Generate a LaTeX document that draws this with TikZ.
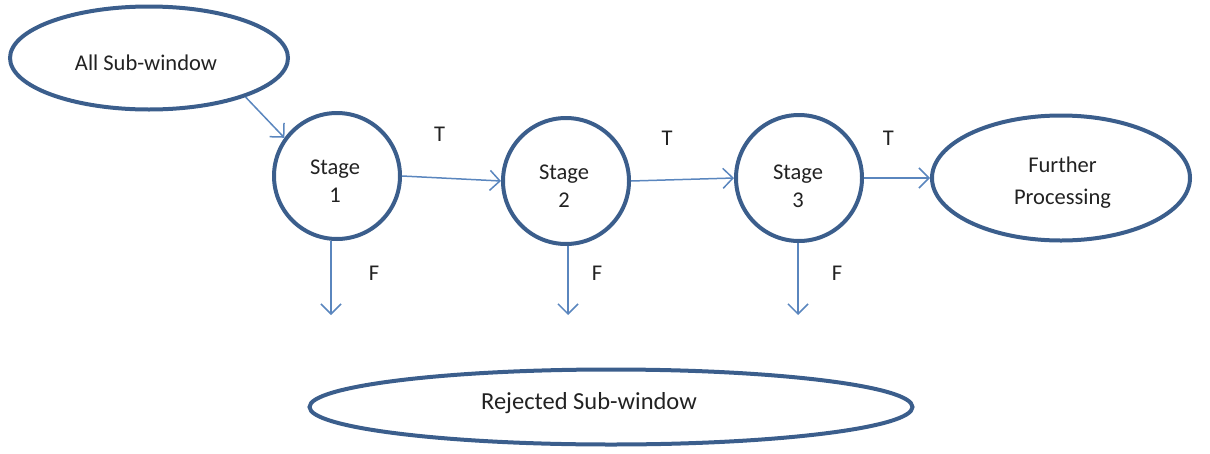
\documentclass[tikz,border=0pt]{standalone}
\usepackage{fontspec}
\setmainfont{Carlito}
\usetikzlibrary{shapes.geometric,arrows.meta}
\definecolor{edgeblue}{HTML}{3B5E8C}
\definecolor{arrowblue}{HTML}{5A86BE}
\definecolor{txt}{HTML}{222222}
\newcommand\shiftedtext[3]{\raisebox{#1}[\height][\depth]{\begin{tabular}{@{}c@{}}#3\end{tabular}}\hspace*{#2}}
\begin{document}
\begin{tikzpicture}[x=1pt,y=-1pt,
  every node/.style={font=\fontsize{22.5}{28}\selectfont, text=txt},
  oval/.style={ellipse, draw=edgeblue, line width=4pt, inner sep=0pt, align=center},
  stagebox/.style={circle, draw=edgeblue, line width=4pt, minimum size=126pt, inner sep=0pt, align=center},
  conn/.style={draw=arrowblue, line width=1.5pt, -{Straight Barb[length=10pt,width=20pt]}},
  lbl/.style={inner sep=0pt}]
\useasboundingbox (0,0) rectangle (1210,453);

\node[oval, minimum width=278pt, minimum height=103pt] (all) at (149,58) {\shiftedtext{-7pt}{6pt}{All Sub-window}};
\node[stagebox] (s1) at (337,176) {\shiftedtext{-7pt}{4pt}{Stage\\1}};
\node[stagebox] (s2) at (566,181) {\shiftedtext{-7pt}{4pt}{Stage\\2}};
\node[stagebox] (s3) at (799,178) {\shiftedtext{-10pt}{2pt}{Stage\\3}};
\node[oval, minimum width=258pt, minimum height=125pt] (fp) at (1061,178) {\shiftedtext{-5pt}{-3pt}{Further\\[4pt]Processing}};
\node[oval, minimum width=603pt, minimum height=75pt] (rej) at (611,407) {\fontsize{24.5}{28}\selectfont\shiftedtext{3pt}{44pt}{Rejected Sub-window}};

\coordinate (f1) at (331,315);
\coordinate (f2) at (568,315);
\coordinate (f3) at (798,315);

\draw[conn] (all.-22) -- (s1.144);
\draw[conn] (s1.east) -- node[lbl, pos=0.38, yshift=44pt] {T} (s2.west);
\draw[conn] (s2.east) -- node[lbl, pos=0.35, yshift=42pt] {T} (s3.west);
\draw[conn] (s3.east) -- node[lbl, pos=0.37, yshift=40pt] {T} (fp.west);
\draw[conn] (s1.south -| f1) -- node[lbl, pos=0.43, xshift=43pt] {F} (f1);
\draw[conn] (s2.south -| f2) -- node[lbl, pos=0.39, xshift=29pt] {F} (f2);
\draw[conn] (s3.south -| f3) -- node[lbl, pos=0.42, xshift=39pt] {F} (f3);
\end{tikzpicture}
\end{document}
